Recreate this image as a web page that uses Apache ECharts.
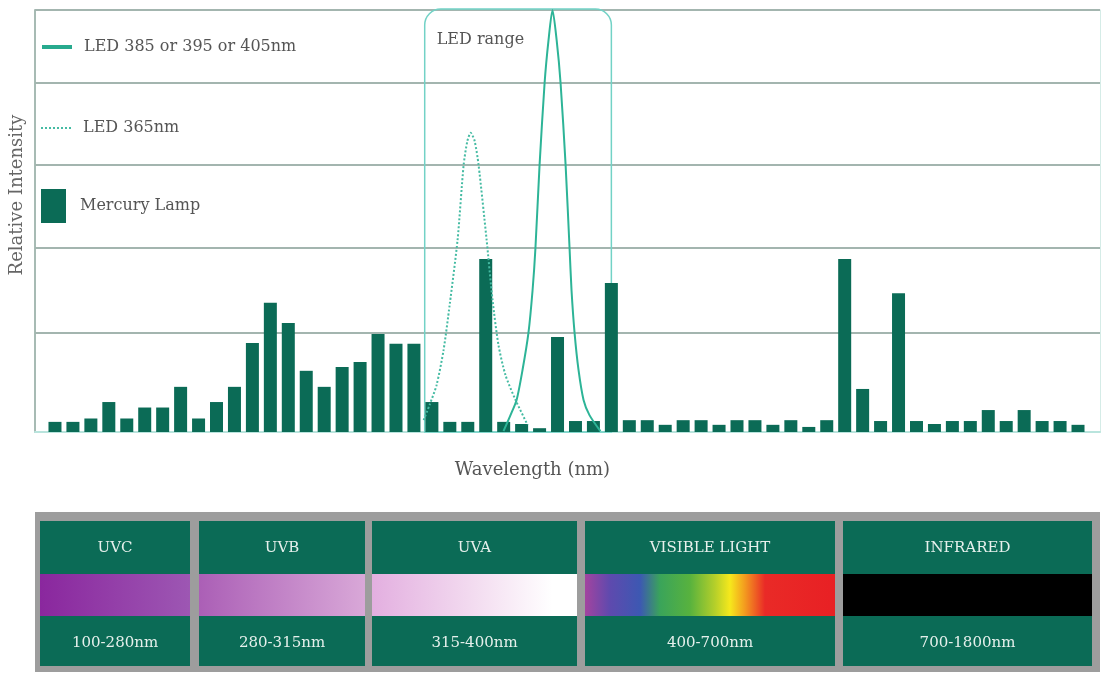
<!DOCTYPE html>
<html>
<head>
<meta charset="utf-8">
<script src="https://cdn.jsdelivr.net/npm/echarts@6/dist/echarts.min.js"></script>
<style>
html,body{margin:0;padding:0;background:#ffffff;}
#chart{width:1104px;height:674px;}
</style>
</head>
<body>
<div id="chart"></div>
<script>
// ---------------- DATA ----------------
const seriesNames = ['LED 385 or 395 or 405nm', 'LED 365nm', 'Mercury Lamp'];
const xAxisName = 'Wavelength (nm)';
const yAxisName = 'Relative Intensity';

// Mercury lamp emission bars (relative intensity, 0-100), left to right
const mercuryLamp = [
  2.4, 2.4, 3.2, 7.1, 3.2, 5.8, 5.8, 10.7, 3.2, 7.1,
  10.7, 21.1, 30.6, 25.8, 14.5, 10.7, 15.4, 16.6, 23.2, 20.9,
  20.9, 7.1, 2.4, 2.4, 41.0, 2.4, 1.9, 0.9, 22.5, 2.6,
  2.6, 35.3, 2.8, 2.8, 1.7, 2.8, 2.8, 1.7, 2.8, 2.8,
  1.7, 2.8, 1.2, 2.8, 41.0, 10.2, 2.6, 32.9, 2.6, 1.9,
  2.6, 2.6, 5.2, 2.6, 5.2, 2.6, 2.6, 1.7
];

// LED 385/395/405nm emission curve: [position, intensity]
const led395 = [
  [24.99, 0.2], [25.38, 4.0], [25.72, 7.6], [26.05, 14.7], [26.38, 23.5],
  [26.61, 33.6], [26.77, 43.6], [27.00, 63.3], [27.28, 82.7], [27.50, 92.9],
  [27.72, 100], [27.95, 92.9], [28.17, 82.7], [28.45, 63.3], [28.67, 43.6],
  [28.78, 33.6], [28.95, 23.5], [29.17, 14.7], [29.45, 7.6], [29.78, 4.0],
  [30.39, 0.2]
];

// LED 365nm emission curve: [position, intensity]
const led365 = [
  [20.54, 2.8], [20.87, 6.4], [21.26, 11.1], [21.65, 19.4], [21.99, 30.1],
  [22.43, 45.5], [22.77, 63.3], [22.98, 69.0], [23.16, 70.9], [23.38, 69.0],
  [23.60, 63.3], [24.05, 45.5], [24.38, 31.3], [24.71, 20.6], [25.10, 13.5],
  [25.66, 7.6], [26.33, 1.7]
];

// LED range bracket: [start position, end position, top intensity]
const ledRange = [20.6, 31.0, 100];
const ledRangeLabel = 'LED range';

// horizontal reference levels
const gridLevels = [23.5, 43.6, 63.3, 82.7, 100];

// spectrum band table
const bandNames = ['UVC', 'UVB', 'UVA', 'VISIBLE LIGHT', 'INFRARED'];
const bandRanges = ['100-280nm', '280-315nm', '315-400nm', '400-700nm', '700-1800nm'];

// ---------------- STYLE / LAYOUT ----------------
const FONT = '"DejaVu Serif", "Liberation Serif", serif';
const GREEN = '#0b6b56';
const bandBoxes = [[40, 190], [199, 365], [372, 577], [585, 835], [843, 1092]];
const bandGradients = [
  [[0, '#8a279e'], [1, '#9d57b3']],
  [[0, '#ab5fb6'], [1, '#d9a8d8']],
  [[0, '#e3afe0'], [0.5, '#f3dcf0'], [0.88, '#ffffff'], [1, '#ffffff']],
  [[0, '#a3449f'], [0.1, '#5e4aae'], [0.22, '#3d58b2'], [0.3, '#3aa45a'], [0.42, '#58b23e'],
   [0.52, '#b5cf2a'], [0.58, '#f6e81c'], [0.64, '#f39a1f'], [0.72, '#e92a27'], [1, '#e82024']],
  [[0, '#000000'], [1, '#000000']]
];
const panelTop = 512, panelBottom = 672, boxTop = 521, boxBottom = 666;
const stripTop = 574, stripBottom = 616;

const xMin = -1.113, xMax = 58.225;

const barData = mercuryLamp.map((v, i) => [i, v]);

function linearGrad(stops) {
  return new echarts.graphic.LinearGradient(0, 0, 1, 0,
    stops.map(s => ({ offset: s[0], color: s[1] })));
}

const panelChildren = [{
  type: 'rect',
  shape: { x: 35, y: panelTop, width: 1065, height: panelBottom - panelTop },
  style: { fill: '#9d9d9d' }
}];
bandBoxes.forEach((b, i) => {
  const w = b[1] - b[0];
  const cx = (b[0] + b[1]) / 2;
  panelChildren.push({
    type: 'rect', shape: { x: b[0], y: boxTop, width: w, height: boxBottom - boxTop },
    style: { fill: GREEN }
  });
  panelChildren.push({
    type: 'rect', shape: { x: b[0], y: stripTop, width: w, height: stripBottom - stripTop },
    style: { fill: linearGrad(bandGradients[i]) }
  });
  panelChildren.push({
    type: 'text', x: cx, y: (boxTop + stripTop) / 2 + 1,
    style: { text: bandNames[i], fill: '#e6f0ec', font: '15px ' + FONT, align: 'center', verticalAlign: 'middle' }
  });
  panelChildren.push({
    type: 'text', x: cx, y: (stripBottom + boxBottom) / 2 + 2,
    style: { text: bandRanges[i], fill: '#e6f0ec', font: '15px ' + FONT, align: 'center', verticalAlign: 'middle' }
  });
});

const chart = echarts.init(document.getElementById('chart'), null, { renderer: 'canvas' });

const legendText = { fontFamily: FONT, fontSize: 16, color: '#555555' };

chart.setOption({
  animation: false,
  backgroundColor: '#ffffff',
  grid: { left: 34, right: 4, top: 10, bottom: 242, containLabel: false },
  xAxis: {
    type: 'value', min: xMin, max: xMax,
    axisLine: { show: true, onZero: false, lineStyle: { color: '#b9e4dd', width: 2 } },
    axisTick: { show: false }, axisLabel: { show: false }, splitLine: { show: false },
    name: xAxisName, nameLocation: 'middle', nameGap: 29,
    nameTextStyle: { fontFamily: FONT, fontSize: 18, color: '#555555', padding: [0, 70, 0, 0] }
  },
  yAxis: [{
    type: 'value', min: 0, max: 100,
    axisLine: { show: true, onZero: false, lineStyle: { color: '#a7bbb4', width: 2 } },
    axisTick: { show: false }, axisLabel: { show: false }, splitLine: { show: false },
    name: yAxisName, nameLocation: 'middle', nameGap: 9,
    nameTextStyle: { fontFamily: FONT, fontSize: 18, color: '#666666', padding: [0, 0, 0, 52] }
  }, {
    type: 'value', min: 0, max: 100, position: 'right',
    axisLine: { show: true, onZero: false, lineStyle: { color: '#d5ece7', width: 1 } },
    axisTick: { show: false }, axisLabel: { show: false }, splitLine: { show: false }
  }],
  legend: [{
    data: [seriesNames[0]], left: 40, top: 39, padding: 0, selectedMode: false,
    itemWidth: 30, itemHeight: 4, lineStyle: { width: 4, color: '#28aa8e' },
    itemStyle: { opacity: 0 },
    textStyle: Object.assign({ padding: [0, 0, 0, 7] }, legendText)
  }, {
    data: [seriesNames[1]], left: 40, top: 120, padding: 0, selectedMode: false,
    itemWidth: 30, itemHeight: 4,
    itemStyle: { opacity: 0 },
    textStyle: Object.assign({ padding: [0, 0, 0, 7] }, legendText)
  }, {
    data: [{ name: seriesNames[2], icon: 'rect' }], left: 41, top: 189, padding: 0, selectedMode: false,
    itemWidth: 25, itemHeight: 34,
    textStyle: Object.assign({ padding: [0, 0, 0, 9] }, legendText)
  }],
  series: [{
    type: 'custom',
    name: ledRangeLabel,
    z: 1,
    silent: true,
    encode: { x: [0, 1], y: 2 },
    data: [ledRange],
    renderItem: function (params, api) {
      const p0 = api.coord([api.value(0), api.value(2)]);
      const p1 = api.coord([api.value(1), 0]);
      return {
        type: 'group',
        children: [{
          type: 'rect',
          shape: { x: p0[0], y: p0[1] - 1, width: p1[0] - p0[0], height: p1[1] - p0[1] + 1, r: [16, 16, 0, 0] },
          style: { fill: 'none', stroke: '#72d2c6', lineWidth: 1.5 }
        }, {
          type: 'text',
          x: p0[0] + 12, y: p0[1] + 30,
          style: { text: ledRangeLabel, fill: '#555555', font: '16px ' + FONT, verticalAlign: 'middle' }
        }]
      };
    }
  }, {
    type: 'bar',
    name: seriesNames[2],
    data: barData,
    barWidth: 13,
    z: 3,
    itemStyle: { color: GREEN },
    markLine: {
      z: 1,
      silent: true,
      symbol: ['none', 'none'],
      label: { show: false },
      lineStyle: { color: '#a3b5af', width: 2, type: 'solid' },
      data: gridLevels.map(v => ({ yAxis: v }))
    }
  }, {
    type: 'line',
    name: seriesNames[0],
    data: led395,
    smooth: 0.25,
    symbol: 'none',
    z: 4,
    lineStyle: { color: '#2db497', width: 2 },
    itemStyle: { color: '#2db497' }
  }, {
    type: 'line',
    name: seriesNames[1],
    data: led365,
    smooth: 0.25,
    symbol: 'none',
    z: 4,
    lineStyle: { color: '#45bba3', width: 2, type: 'dotted' },
    itemStyle: { color: '#45bba3' }
  }],
  graphic: [{ type: 'group', silent: true, children: panelChildren }]
});
</script>
</body>
</html>
